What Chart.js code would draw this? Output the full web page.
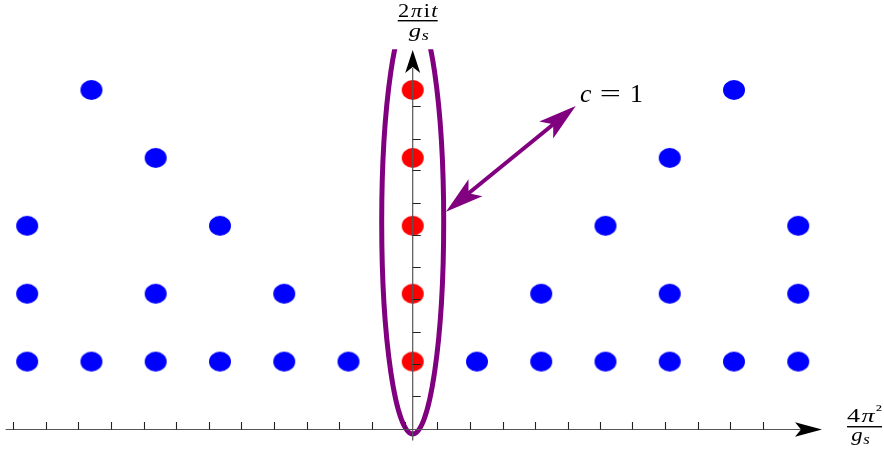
<!DOCTYPE html>
<html>
<head>
<meta charset="utf-8">
<script src="https://cdn.jsdelivr.net/npm/chart.js@4/dist/chart.umd.min.js"></script>
<style>
html,body{margin:0;padding:0;background:#fff;}
canvas{display:block;}
</style>
</head>
<body>
<canvas id="c" width="884" height="452"></canvas>
<script>
// ---- data (x in units of 4π²/g_s, y in units of 2πit/g_s) ----
const blueRow1X = [-6, -5, -4, -3, -2, -1, 1, 2, 3, 4, 5, 6];
const blueRow2X = [-6, -4, -2, 2, 4, 6];
const blueRow3X = [-6, -3, 3, 6];
const blueRow4X = [-4, 4];
const blueRow5X = [-5, 5];
const blueRows = [blueRow1X, blueRow2X, blueRow3X, blueRow4X, blueRow5X];
const blueRowY = [1, 2, 3, 4, 5];
const redX = [0, 0, 0, 0, 0];
const redY = [1, 2, 3, 4, 5];
// minor tick positions
const xTicks = [-6.216, -5.707, -5.205, -4.696, -4.187, -3.679, -3.170, -2.668, -2.159, -1.650,
  -1.147, -0.638, -0.120, 0.383, 0.891, 1.401, 1.908, 2.417, 2.915, 3.418, 3.927, 4.436, 4.938, 5.447];
const yTicks = [0.493, 0.965, 1.436, 1.918, 2.389, 2.865, 3.340, 3.822, 4.278, 4.764];
const xAxisLabel = ['4π²', 'g_s'];
const yAxisLabel = ['2πit', 'g_s'];
const annotationText = 'c = 1';

// ---- view / annotation geometry (data units) ----
const X_MIN = -6.423, X_MAX = 7.335, Y_MIN = -0.331, Y_MAX = 6.325;
const X_AXIS = {from: -6.335, to: 6.37};
const Y_AXIS = {from: -0.16, to: 5.59};
const ELLIPSE = {cx: 0, cy: 3.056, rx: 0.4825, ry: 3.122, clipTop: 5.6};
const ARROW = {x1: 0.518, y1: 3.208, x2: 2.537, y2: 4.764};

const blueData = [];
blueRows.forEach((row, i) => row.forEach(x => blueData.push({x: x, y: blueRowY[i]})));
const redData = redX.map((x, i) => ({x: x, y: redY[i]}));

function dotImage(color) {
  const c = document.createElement('canvas');
  c.width = 24; c.height = 22;
  const g = c.getContext('2d');
  g.fillStyle = color;
  g.beginPath();
  g.ellipse(12, 11, 11, 10, 0, 0, Math.PI * 2);
  g.fill();
  return c;
}

function drawRunsFit(ctx, runs, cx, by, targetW) {
  let total = 0;
  const ws = runs.map(r => {
    ctx.font = r.font;
    const w = ctx.measureText(r.t).width * (r.sx || 1);
    total += w + (r.gap || 0);
    return w;
  });
  const k = targetW ? targetW / total : 1;
  ctx.save();
  ctx.translate(cx - total * k / 2, by);
  ctx.scale(k, 1);
  let x = 0;
  runs.forEach((r, i) => {
    x += r.gap || 0;
    ctx.save();
    ctx.font = r.font;
    ctx.textAlign = 'left';
    ctx.textBaseline = 'alphabetic';
    ctx.fillStyle = '#000';
    ctx.translate(x, r.dy || 0);
    ctx.scale(r.sx || 1, 1);
    ctx.fillText(r.t, 0, 0);
    ctx.restore();
    x += ws[i];
  });
  ctx.restore();
}

function arrowHead(ctx, tx, ty, ux, uy, len, hw, notch) {
  const px = -uy, py = ux;
  ctx.beginPath();
  ctx.moveTo(tx, ty);
  ctx.lineTo(tx - ux * len + px * hw, ty - uy * len + py * hw);
  ctx.lineTo(tx - ux * notch, ty - uy * notch);
  ctx.lineTo(tx - ux * len - px * hw, ty - uy * len - py * hw);
  ctx.closePath();
  ctx.fill();
}

const overlay = {
  id: 'overlay',
  afterDatasetsDraw(chart) {
    const ctx = chart.ctx;
    const xs = chart.scales.x, ys = chart.scales.y;
    const X = v => xs.getPixelForValue(v), Y = v => ys.getPixelForValue(v);

    // ellipse
    ctx.save();
    ctx.beginPath();
    ctx.rect(0, Y(ELLIPSE.clipTop), chart.width, chart.height);
    ctx.clip();
    ctx.strokeStyle = '#800080';
    ctx.lineWidth = 5;
    ctx.beginPath();
    ctx.ellipse(X(ELLIPSE.cx), Y(ELLIPSE.cy), X(ELLIPSE.rx) - X(0), Y(0) - Y(ELLIPSE.ry), 0, 0, Math.PI * 2);
    ctx.stroke();
    ctx.restore();

    // double arrow
    ctx.save();
    const ax1 = X(ARROW.x1), ay1 = Y(ARROW.y1), ax2 = X(ARROW.x2), ay2 = Y(ARROW.y2);
    const L = Math.hypot(ax2 - ax1, ay2 - ay1);
    const ux = (ax2 - ax1) / L, uy = (ay2 - ay1) / L;
    ctx.strokeStyle = '#800080';
    ctx.fillStyle = '#800080';
    ctx.lineWidth = 4;
    ctx.beginPath();
    ctx.moveTo(ax1 + ux * 28, ay1 + uy * 28);
    ctx.lineTo(ax2 - ux * 28, ay2 - uy * 28);
    ctx.stroke();
    arrowHead(ctx, ax2, ay2, ux, uy, 38, 11, 29);
    arrowHead(ctx, ax1, ay1, -ux, -uy, 38, 11, 29);
    ctx.restore();

    // axes
    ctx.save();
    const x0 = X(0), y0 = Y(0);
    ctx.strokeStyle = '#555';
    ctx.lineWidth = 1.2;
    ctx.beginPath();
    ctx.moveTo(X(X_AXIS.from), y0);
    ctx.lineTo(X(X_AXIS.to) - 20, y0);
    ctx.moveTo(x0, Y(Y_AXIS.from));
    ctx.lineTo(x0, Y(Y_AXIS.to) + 18);
    ctx.stroke();
    ctx.strokeStyle = '#222';
    ctx.lineWidth = 1.1;
    ctx.beginPath();
    xTicks.forEach(t => { const p = Math.round(X(t)) + 0.5; ctx.moveTo(p, y0); ctx.lineTo(p, y0 - 7.5); });
    yTicks.forEach(t => { const p = Math.round(Y(t)) + 0.5; ctx.moveTo(x0, p); ctx.lineTo(x0 + 8, p); });
    ctx.stroke();
    ctx.fillStyle = '#000';
    arrowHead(ctx, X(X_AXIS.to), y0, 1, 0, 27, 7.2, 21);
    arrowHead(ctx, x0, Y(Y_AXIS.to), 0, -1, 23, 7.5, 17);
    ctx.restore();

    // labels
    ctx.save();
    const F = 'Liberation Serif, Times New Roman, serif';
    // y-axis label (top)
    const tcx = X(0.078);
    drawRunsFit(ctx, [
      {t: yAxisLabel[0][0], font: '19px ' + F},
      {t: yAxisLabel[0][1], font: 'italic 19px ' + F, gap: 1.5},
      {t: yAxisLabel[0][2], font: '19px ' + F, gap: 1.5},
      {t: yAxisLabel[0][3], font: 'italic 19px ' + F, gap: 1}
    ], tcx, Y(6.08), 39.5);
    ctx.fillRect(tcx - 20, Y(6.02) - 0.7, 40, 1.4);
    drawRunsFit(ctx, [
      {t: 'g', font: 'italic 19px ' + F},
      {t: 's', font: 'italic 14px ' + F, dy: 3.5, gap: 0.5}
    ], X(0.095), Y(5.787), 20);
    // x-axis label (right)
    const rcx = X(7.032);
    drawRunsFit(ctx, [
      {t: xAxisLabel[0][0], font: '19px ' + F},
      {t: xAxisLabel[0][1], font: 'italic 19px ' + F, gap: 1},
      {t: xAxisLabel[0][2], font: '15px ' + F, dy: -7, gap: 1}
    ], rcx, Y(0.115), 35);
    ctx.fillRect(rcx - 17.5, Y(0.041) - 0.7, 35, 1.4);
    drawRunsFit(ctx, [
      {t: 'g', font: 'italic 19px ' + F},
      {t: 's', font: 'italic 14px ' + F, dy: 3.5, gap: 0.5}
    ], X(6.97), Y(-0.169), 18.5);
    // c = 1
    const parts = annotationText.split(' ');
    drawRunsFit(ctx, [
      {t: parts[0], font: 'italic 25px ' + F},
      {t: parts[1], font: '25px ' + F, sx: 1.45, gap: 8},
      {t: parts[2], font: '25px ' + F, gap: 9}
    ], X(3.094), Y(4.827), 63);
    ctx.restore();
  }
};

new Chart(document.getElementById('c'), {
  type: 'scatter',
  data: {
    datasets: [
      {label: 'blue', data: blueData, pointStyle: dotImage('#0000ff'), pointRadius: 11},
      {label: 'red', data: redData, pointStyle: dotImage('#ff0000'), pointRadius: 11}
    ]
  },
  options: {
    responsive: false,
    animation: false,
    layout: {padding: 0, autoPadding: false},
    scales: {
      x: {type: 'linear', min: X_MIN, max: X_MAX, display: false},
      y: {type: 'linear', min: Y_MIN, max: Y_MAX, display: false}
    },
    plugins: {legend: {display: false}, tooltip: {enabled: false}}
  },
  plugins: [overlay]
});
</script>
</body>
</html>
